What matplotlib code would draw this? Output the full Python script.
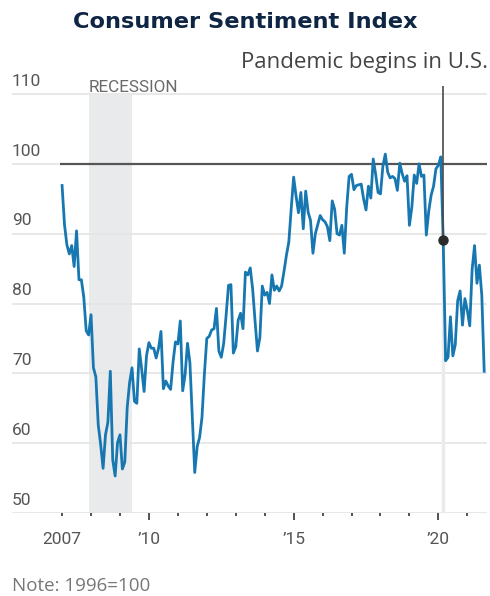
import matplotlib
matplotlib.use("Agg")
import matplotlib.pyplot as plt
import matplotlib.transforms as mtransforms
import numpy as np

# University of Michigan consumer sentiment, monthly, 1996=100
start_year = 2007
sentiment = [
    # 2007
    96.9, 91.3, 88.4, 87.1, 88.3, 85.3, 90.4, 83.4, 83.4, 80.9, 76.1, 75.5,
    # 2008
    78.4, 70.8, 69.5, 62.6, 59.8, 56.4, 61.2, 63.0, 70.3, 57.6, 55.3, 60.1,
    # 2009
    61.2, 56.3, 57.3, 65.1, 68.7, 70.8, 66.0, 65.7, 73.5, 70.6, 67.4, 72.5,
    # 2010
    74.4, 73.6, 73.6, 72.2, 73.6, 76.0, 67.8, 68.9, 68.2, 67.7, 71.6, 74.5,
    # 2011
    74.2, 77.5, 67.5, 69.8, 74.3, 71.5, 63.7, 55.8, 59.5, 60.8, 63.7, 69.9,
    # 2012
    75.0, 75.3, 76.2, 76.4, 79.3, 73.2, 72.3, 74.3, 78.3, 82.6, 82.7, 72.9,
    # 2013
    73.8, 77.6, 78.6, 76.4, 84.5, 84.1, 85.1, 82.1, 77.5, 73.2, 75.1, 82.5,
    # 2014
    81.2, 81.6, 80.0, 84.1, 81.9, 82.5, 81.8, 82.5, 84.6, 86.9, 88.8, 93.6,
    # 2015
    98.1, 95.4, 93.0, 95.9, 90.7, 96.1, 93.1, 91.9, 87.2, 90.0, 91.3, 92.6,
    # 2016
    92.0, 91.7, 91.0, 89.0, 94.7, 93.5, 90.0, 89.8, 91.2, 87.2, 93.8, 98.2,
    # 2017
    98.5, 96.3, 96.9, 97.0, 97.1, 95.0, 93.4, 96.8, 95.1, 100.7, 98.5, 95.9,
    # 2018
    95.7, 99.7, 101.4, 98.8, 98.0, 98.2, 97.9, 96.2, 100.1, 98.6, 97.5, 98.3,
    # 2019
    91.2, 93.8, 98.4, 97.2, 100.0, 98.2, 98.4, 89.8, 93.2, 95.5, 96.8, 99.3,
    # 2020
    99.8, 101.0, 89.1, 71.8, 72.3, 78.1, 72.5, 74.1, 80.4, 81.8, 76.9, 80.7,
    # 2021
    79.0, 76.8, 84.9, 88.3, 82.9, 85.5, 81.2, 70.3,
]
dates = start_year + np.arange(len(sentiment)) / 12.0

recession = (2007 + 11 / 12, 2009 + 5 / 12)   # Dec 2007 - Jun 2009
pandemic_date = 2020 + 2 / 12                 # Mar 2020
pandemic_value = 89.1
base_value = 100

y_ticks = [50, 60, 70, 80, 90, 100, 110]
x_major = [2007, 2010, 2015, 2020]
x_labels = ["2007", "\u201910", "\u201915", "\u201920"]
x_minor = list(range(2007, 2022))

blue = "#1777b1"
grey_txt = "#555555"
font = "Roboto"

W, H = 490, 596
fig = plt.figure(figsize=(W / 100, H / 100), dpi=100)
ax = fig.add_axes([12 / W, (H - 513) / H, 475 / W, (513 - 86) / H])
ax.set_xlim(2005.27, 2021.68)
ax.set_ylim(50, 111.15)
for s in ax.spines.values():
    s.set_visible(False)

# gridlines + y labels sitting above them
lab_tr = mtransforms.blended_transform_factory(ax.transAxes, ax.transData)
for v in y_ticks:
    ax.axhline(v, color="#e4e4e4", lw=1.2, zorder=1)
    ax.text(0, v + 0.75, str(v), transform=lab_tr, ha="left", va="bottom",
            fontsize=12.5, color=grey_txt, family=font)

# recession band
ax.fill_between(recession, 50, 109.8, color="#e9eaec", lw=0, zorder=0)
ax.text(recession[0], 110.35, "RECESSION", ha="left", va="baseline",
        fontsize=12.3, color="#6a6a6a", family=font)

# 1996 = 100 reference
ax.hlines(base_value, 2006.93, 2021.68, color="#555555", lw=1.6, zorder=2)

# pandemic marker
ax.vlines(pandemic_date, 50, pandemic_value, color="#ebebeb", lw=2.5, zorder=1)
ax.vlines(pandemic_date, pandemic_value, 111.15, color="#4a4a4a", lw=1.2, zorder=4)

ax.plot(dates, sentiment, color=blue, lw=2.0, zorder=3, solid_joinstyle="round")
ax.plot([pandemic_date], [pandemic_value], "o", color="#2b2b2b", ms=6.5, zorder=5)

# x axis
ax.set_yticks([])
ax.set_xticks(x_major)
ax.set_xticklabels(x_labels, family=font, fontsize=12.5, color=grey_txt)
ax.set_xticks(x_minor, minor=True)
ax.tick_params(axis="x", which="major", length=5, width=1.3, color="#444444", pad=9)
ax.tick_params(axis="x", which="minor", length=2.5, width=1.3, color="#444444")
ax.xaxis.get_major_ticks()[0].tick1line.set_markersize(2.5)

fig.text(0.5, 1 - 22 / H, "Consumer Sentiment Index", ha="center", va="center",
         fontsize=16.2, fontweight="bold", color="#0f2544", family="DejaVu Sans")
fig.text(488 / W, 1 - 68 / H, "Pandemic begins in U.S.", ha="right", va="baseline",
         fontsize=16, color="#444444", family="Open Sans")
fig.text(12 / W, 1 - 591 / H, "Note: 1996=100", ha="left", va="baseline",
         fontsize=13.5, color="#777777", family="Open Sans")

fig.savefig("out.png", dpi=100)
